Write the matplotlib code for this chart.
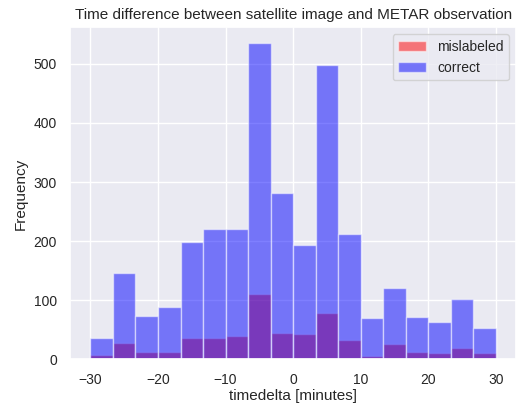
import numpy as np
import matplotlib
matplotlib.use("Agg")
import matplotlib.pyplot as plt
import seaborn as sns

# 18 equal bins between -30 and 30 minutes
bin_edges = np.linspace(-30, 30, 19)
correct_counts = [36, 146, 74, 88, 199, 220, 220, 535, 282, 194, 498, 212, 70, 121, 72, 63, 103, 54]
mislabeled_counts = [8, 28, 13, 13, 36, 37, 40, 110, 44, 43, 79, 33, 6, 26, 12, 11, 19, 11]

sns.set_theme()
plt.rcParams['font.family'] = ['Liberation Sans', 'DejaVu Sans']

centers = (bin_edges[:-1] + bin_edges[1:]) / 2

fig = plt.figure(figsize=(5.16, 4.08), dpi=100)
ax = fig.add_axes([0.136, 0.119, 0.864, 0.814])
ax.hist(centers, bins=bin_edges, weights=mislabeled_counts, color='red', alpha=0.5, label='mislabeled')
ax.hist(centers, bins=bin_edges, weights=correct_counts, color='blue', alpha=0.5, label='correct')
ax.set_title('Time difference between satellite image and METAR observation', fontsize=11)
ax.set_xlabel('timedelta [minutes]', fontsize=11, labelpad=2)
ax.set_ylabel('Frequency', fontsize=11)
ax.tick_params(labelsize=10)
ax.legend(fontsize=10)
fig.savefig('out.png', dpi=100)
